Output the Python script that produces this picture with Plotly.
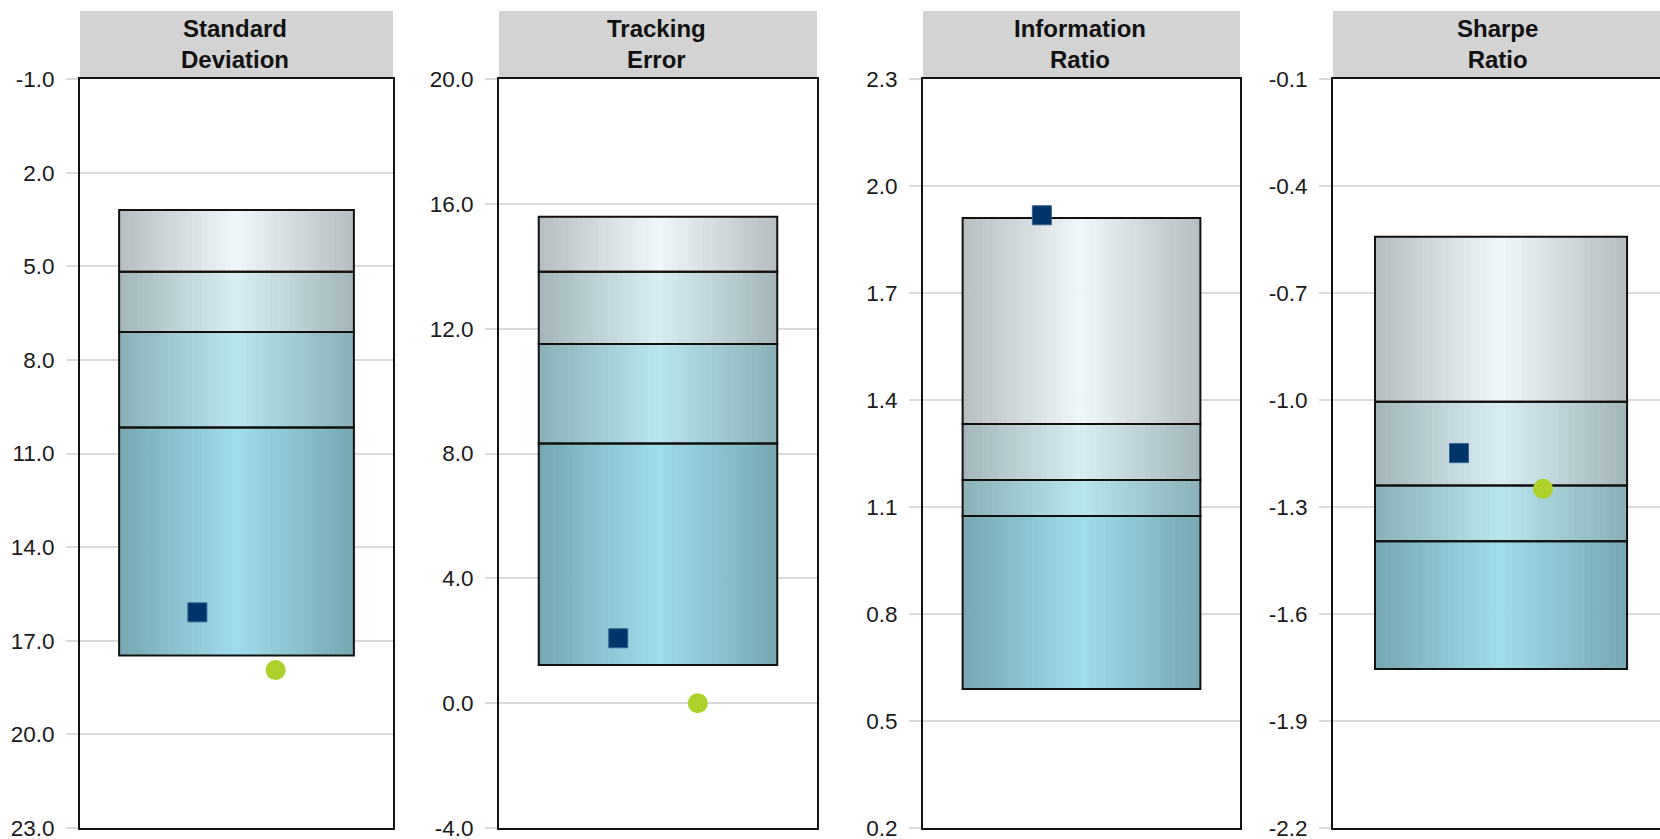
import plotly.graph_objects as go

FONT = "Liberation Sans, Arial, sans-serif"
W, H = 1660, 839

# ---- data -------------------------------------------------------------
metrics = ["Standard<br>Deviation", "Tracking<br>Error", "Information<br>Ratio", "Sharpe<br>Ratio"]

# quartile breakpoints, from the 1st-quartile edge down to the 4th-quartile edge
sd_quartiles = [3.20, 5.18, 7.11, 10.17, 17.47]
te_quartiles = [15.59, 13.82, 11.51, 8.32, 1.22]
ir_quartiles = [1.910, 1.333, 1.176, 1.075, 0.590]
sr_quartiles = [-0.542, -1.005, -1.240, -1.396, -1.754]
quartiles = [sd_quartiles, te_quartiles, ir_quartiles, sr_quartiles]

portfolio = [16.09, 2.08, 1.918, -1.149]
benchmark = [17.94, 0.00, None, -1.249]

sd_ticks = [-1.0, 2.0, 5.0, 8.0, 11.0, 14.0, 17.0, 20.0, 23.0]
te_ticks = [-4.0, 0.0, 4.0, 8.0, 12.0, 16.0, 20.0]
ir_ticks = [0.2, 0.5, 0.8, 1.1, 1.4, 1.7, 2.0, 2.3]
sr_ticks = [-2.2, -1.9, -1.6, -1.3, -1.0, -0.7, -0.4, -0.1]
tick_values = [sd_ticks, te_ticks, ir_ticks, sr_ticks]
tick_labels = [[f"{v:.1f}" for v in t] for t in tick_values]

y_ranges = [[23.0, -1.0], [-4.0, 20.0], [0.2, 2.3], [-2.2, -0.1]]

# ---- styling ----------------------------------------------------------
panel_px = [(80, 393), (499, 817), (923, 1240), (1333, 1660)]
x_ranges = [[0, 1], [0, 1], [0, 1], [0, 0.973]]
plot_top_px, plot_bottom_px, header_top_px = 79, 828, 11

band_palette = [("#B7BEC1", "#F0F7FA"),
                ("#A3B5B9", "#D8EEF3"),
                ("#8AAFB7", "#B9E5ED"),
                ("#77A7B3", "#A1DCEA")]
box_left, box_right = 0.125, 0.875
n_slices = 48
portfolio_x, benchmark_x = 0.375, 0.625


def hex_rgb(h):
    h = h.lstrip("#")
    return tuple(int(h[i:i + 2], 16) for i in (0, 2, 4))


def mix(c1, c2, t):
    a, b = hex_rgb(c1), hex_rgb(c2)
    return "rgb(%d,%d,%d)" % tuple(round(a[i] + (b[i] - a[i]) * t) for i in range(3))


def py(px):
    return (H - px) / H


slice_w = (box_right - box_left) / n_slices
slice_x = [box_left + (k + 0.5) * slice_w for k in range(n_slices)]
slice_t = [1 - abs((x - box_left) / (box_right - box_left) - 0.5) * 2 for x in slice_x]

fig = go.Figure()
layout = dict(width=W, height=H, margin=dict(l=0, r=0, t=0, b=0, autoexpand=False),
              paper_bgcolor="white", plot_bgcolor="white",
              showlegend=False, barmode="overlay",
              shapes=[], annotations=[])

for i in range(4):
    sfx = "" if i == 0 else str(i + 1)
    xa, ya = "x" + sfx, "y" + sfx
    q = quartiles[i]

    # gradient-filled quartile bands
    for b in range(4):
        lo, hi = min(q[b], q[b + 1]), max(q[b], q[b + 1])
        edge, center = band_palette[b]
        fig.add_trace(go.Bar(
            x=slice_x, y=[hi - lo] * n_slices, base=[lo] * n_slices,
            width=slice_w * 1.15, xaxis=xa, yaxis=ya,
            marker=dict(color=[mix(edge, center, t) for t in slice_t], line=dict(width=0)),
            hoverinfo="skip"))
    # band outlines
    for b in range(4):
        lo, hi = min(q[b], q[b + 1]), max(q[b], q[b + 1])
        fig.add_trace(go.Bar(
            x=[0.5], y=[hi - lo], base=[lo], width=box_right - box_left,
            xaxis=xa, yaxis=ya,
            marker=dict(color="rgba(0,0,0,0)", line=dict(color="#111111", width=2)),
            hoverinfo="skip"))

    # portfolio and benchmark markers
    fig.add_trace(go.Scatter(
        x=[portfolio_x], y=[portfolio[i]], mode="markers", xaxis=xa, yaxis=ya,
        marker=dict(symbol="square", size=19, color="#01356A",
                    line=dict(color="#33628F", width=1))))
    if benchmark[i] is not None:
        fig.add_trace(go.Scatter(
            x=[benchmark_x], y=[benchmark[i]], mode="markers", xaxis=xa, yaxis=ya,
            marker=dict(symbol="circle", size=20, color="#AED12A", line=dict(width=0))))

    x0, x1 = panel_px[i]
    dom_x = [x0 / W, x1 / W]
    layout["xaxis" + sfx] = dict(
        domain=dom_x, range=x_ranges[i], anchor=ya, automargin=False,
        showgrid=False, zeroline=False, showticklabels=False, ticks="",
        showline=True, linecolor="#111111", linewidth=2, mirror=True, fixedrange=True)
    layout["yaxis" + sfx] = dict(
        domain=[py(plot_bottom_px), py(plot_top_px)], range=y_ranges[i], anchor=xa,
        automargin=False, ticklabeloverflow="allow",
        tickmode="array", tickvals=tick_values[i], ticktext=tick_labels[i],
        ticks="outside", ticklen=12, tickcolor="#DADADA", tickwidth=1.5,
        ticklabelstandoff=7,
        tickfont=dict(family=FONT, size=22.5, color="#1a1a1a"),
        showgrid=True, gridcolor="#DADADA", gridwidth=1.5, zeroline=False,
        showline=True, linecolor="#111111", linewidth=2,
        mirror=(i < 3), fixedrange=True)

    # header strip
    layout["shapes"].append(dict(
        type="rect", xref="paper", yref="paper", layer="below",
        x0=x0 / W, x1=x1 / W, y0=py(plot_top_px), y1=py(header_top_px),
        fillcolor="#D3D3D3", line=dict(width=0)))
    cx = (x0 + x1) / 2 - 2 if i < 3 else 1497
    layout["annotations"].append(dict(
        xref="paper", yref="paper", x=cx / W, y=py(43.5),
        xanchor="center", yanchor="middle", showarrow=False,
        text="<b>%s</b>" % metrics[i],
        font=dict(family=FONT, size=24, color="#111111")))

fig.update_layout(**layout)
fig.write_html("out.html")
